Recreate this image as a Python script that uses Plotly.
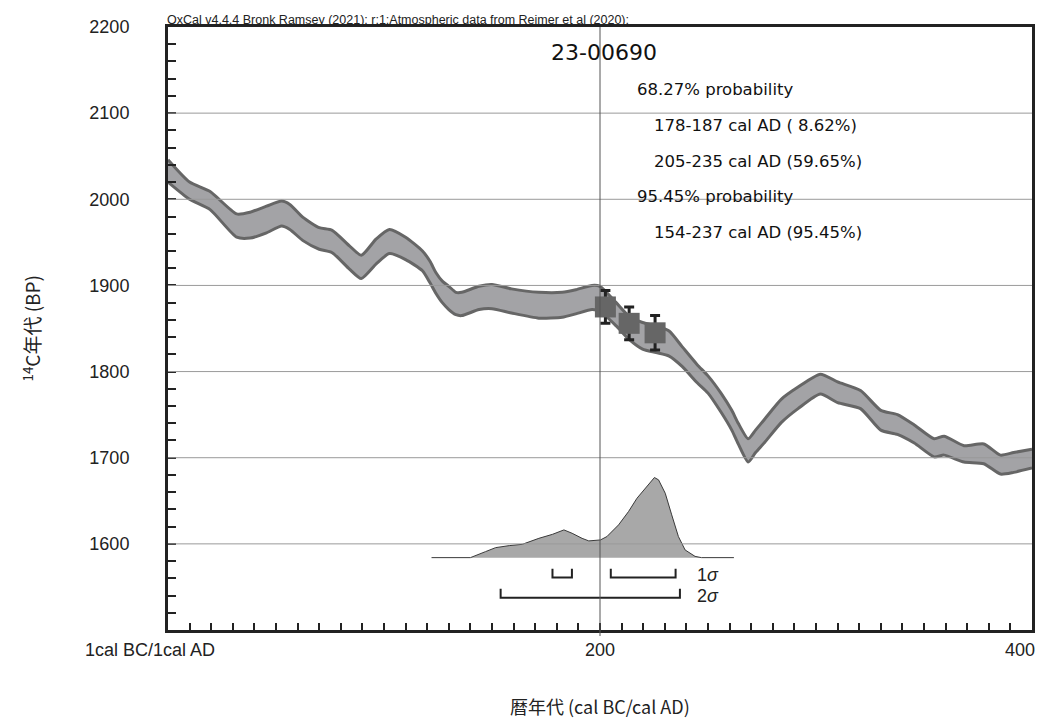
import plotly.graph_objects as go

# calibration curve band (upper / lower edge, BP)
CAL_YEARS = [0, 10, 19.5, 31.8, 38, 45.6, 52.6, 56.4, 62.5, 70, 76, 84, 89.5, 96.4,
             102.5, 110, 117.8, 121.3, 124, 127, 130, 133.3, 136, 144, 150, 159,
             171.7, 182.5, 188.8, 196.3, 200, 207.5, 213.6, 219.7, 226, 232, 238,
             245, 250, 256, 261, 264, 268.6, 272, 276.3, 284, 291.7, 302, 310,
             320.6, 330, 337.7, 345.5, 354.7, 359.3, 368.5, 377.7, 385.4, 391.5, 400]
CURVE_UPPER = [2046, 2020, 2009, 1983, 1985, 1992, 1998, 1994, 1979, 1967, 1964, 1946,
               1935, 1954, 1965, 1956, 1940, 1928, 1915, 1905, 1899, 1892, 1892, 1899,
               1901, 1896, 1892, 1892, 1895, 1900, 1899, 1880, 1864, 1857, 1853, 1847,
               1829, 1808, 1795, 1775, 1755, 1740, 1722, 1732, 1745, 1768, 1782, 1797,
               1788, 1778, 1755, 1750, 1738, 1722, 1725, 1714, 1716, 1703, 1706, 1710]
CURVE_LOWER = [2020, 2000, 1988, 1956, 1955, 1961, 1969, 1965, 1952, 1942, 1938, 1919,
               1908, 1925, 1937, 1930, 1917, 1903, 1891, 1880, 1872, 1866, 1865, 1872,
               1873, 1868, 1862, 1863, 1867, 1872, 1870, 1853, 1837, 1826, 1822, 1818,
               1806, 1787, 1775, 1753, 1732, 1716, 1695, 1706, 1718, 1741, 1757, 1774,
               1764, 1757, 1732, 1727, 1717, 1701, 1703, 1695, 1693, 1681, 1683, 1688]

# wiggle-match samples
SAMPLE_YEARS = [202.5, 213.5, 225.5]
SAMPLE_BP = [1875, 1856, 1845]
SAMPLE_ERR = [19, 19, 20]

# calibrated probability (relative to peak)
PROB_YEARS = [122, 140, 147, 151.7, 158, 164, 171.7, 178, 183.3, 187.1, 191.7, 194.8,
              200.2, 203.2, 208.6, 213.2, 217.1, 220.9, 225.2, 227.1, 230.2, 233.2,
              236.3, 239.4, 244, 247, 262]
PROB_DENSITY = [0, 0, 0.075, 0.125, 0.15, 0.166, 0.241, 0.291, 0.346, 0.304, 0.241,
                0.209, 0.221, 0.263, 0.409, 0.575, 0.741, 0.866, 1.0, 0.971, 0.804,
                0.534, 0.263, 0.096, 0.016, 0, 0]

ONE_SIGMA = [(178, 187), (205, 235)]
TWO_SIGMA = [(154, 237)]

HEADER = "OxCal v4.4.4 Bronk Ramsey (2021); r:1;Atmospheric data from Reimer et al (2020);"
LAB_CODE = "23-00690"
RESULT_LINES = ["68.27% probability", "178-187 cal AD ( 8.62%)", "205-235 cal AD (59.65%)",
                "95.45% probability", "154-237 cal AD (95.45%)"]
RESULT_INDENT = [0, 1, 1, 0, 1]

X_TICKS = [0, 200, 400]
X_TICK_TEXT = ["1cal BC/1cal AD", "200", "400"]
Y_TICKS = [1600, 1700, 1800, 1900, 2000, 2100, 2200]

# layout helpers (page body has an 8px margin, figure is sized to fit)
PROB_BASE = 1584
PROB_SCALE = 93
BAND_FILL = "#a3a3a6"
BAND_EDGE = "#666666"
SANS = "Liberation Sans, Arial, sans-serif"
WIDE = "DejaVu Sans, sans-serif"
JP = "Noto Sans CJK JP, sans-serif"

fig = go.Figure()

# calibration band
fig.add_trace(go.Scatter(x=CAL_YEARS, y=CURVE_LOWER, mode="lines",
                         line=dict(color=BAND_EDGE, width=3, shape="spline", smoothing=0.6),
                         hoverinfo="skip", showlegend=False))
fig.add_trace(go.Scatter(x=CAL_YEARS, y=CURVE_UPPER, mode="lines", fill="tonexty",
                         fillcolor=BAND_FILL,
                         line=dict(color=BAND_EDGE, width=3, shape="spline", smoothing=0.6),
                         hoverinfo="skip", showlegend=False))

# probability distribution
fig.add_trace(go.Scatter(x=PROB_YEARS, y=[PROB_BASE + d * PROB_SCALE for d in PROB_DENSITY],
                         mode="lines", fill="toself", fillcolor="#a8a8a8",
                         line=dict(color="#3a3a3a", width=1), hoverinfo="skip", showlegend=False))

# sigma brackets
for ranges, top, bottom in [(ONE_SIGMA, 1571, 1561), (TWO_SIGMA, 1548, 1537.5)]:
    for a, b in ranges:
        fig.add_trace(go.Scatter(x=[a, a, b, b], y=[top, bottom, bottom, top], mode="lines",
                                 line=dict(color="#222", width=2), hoverinfo="skip",
                                 showlegend=False))

# samples
fig.add_trace(go.Scatter(x=SAMPLE_YEARS, y=SAMPLE_BP, mode="markers",
                         marker=dict(symbol="square", size=21, color="#666666"),
                         error_y=dict(type="data", array=SAMPLE_ERR, color="#222",
                                      thickness=3, width=5),
                         showlegend=False))

# grid lines drawn over the curve
shapes = []
for v in Y_TICKS[:-1]:
    shapes.append(dict(type="line", xref="paper", x0=0, x1=1, yref="y", y0=v, y1=v,
                       line=dict(color="#9a9a9a", width=1), layer="above"))
shapes.append(dict(type="line", xref="x", x0=200, x1=200, yref="paper", y0=-0.01, y1=1,
                   line=dict(color="#555", width=1), layer="above"))

annotations = [
    dict(text=HEADER, xref="paper", yref="paper", x=0, y=1, xanchor="left", yanchor="bottom",
         showarrow=False, font=dict(family=SANS, size=12.5, color="#222"), xshift=-3, yshift=-2),
    dict(text=LAB_CODE, xref="x", yref="y", x=176.3, y=2170, xanchor="left",
         showarrow=False, font=dict(family=WIDE, size=22, color="#111")),
    dict(text="1<i>σ</i>", xref="x", yref="y", x=244, y=1564, xanchor="left",
         showarrow=False, font=dict(family=SANS, size=18, color="#222")),
    dict(text="2<i>σ</i>", xref="x", yref="y", x=244, y=1540, xanchor="left",
         showarrow=False, font=dict(family=SANS, size=18, color="#222")),
    dict(text="<sup>14</sup>C年代 (BP)", xref="paper", yref="paper", x=0, y=0.5,
         xanchor="center", yanchor="middle", xshift=-137, textangle=-90, showarrow=False,
         font=dict(family=JP, size=19, color="#222")),
    dict(text="暦年代 (cal BC/cal AD)", xref="paper", yref="paper", x=0.5, y=0,
         xanchor="center", yanchor="middle", yshift=-76, showarrow=False,
         font=dict(family=JP, size=18, color="#222")),
]
line_y = 2127
for txt, ind in zip(RESULT_LINES, RESULT_INDENT):
    annotations.append(dict(text=txt, xref="x", yref="y", x=216.3 + 8 * ind, y=line_y,
                            xanchor="left", showarrow=False,
                            font=dict(family=WIDE, size=16.5, color="#111")))
    line_y -= 41.4
tick_shift = {0: (-18, "center"), 200: (0, "center"), 400: (5, "right")}
for v, txt in zip(X_TICKS, X_TICK_TEXT):
    xs, anchor = tick_shift[v]
    annotations.append(dict(text=txt, xref="x", yref="paper", x=v, y=0, yshift=-32,
                            xshift=xs, xanchor=anchor, showarrow=False,
                            font=dict(family=SANS, size=18, color="#222")))

fig.update_layout(
    width=1035, height=714,
    margin=dict(l=160, r=8, t=19, b=92),
    paper_bgcolor="white", plot_bgcolor="white",
    shapes=shapes, annotations=annotations,
    xaxis=dict(range=[0, 400], showgrid=False, zeroline=False, showline=True, mirror=True,
               linecolor="#222", linewidth=3, ticks="inside", tick0=0, dtick=10,
               ticklen=7, tickwidth=1.5, tickcolor="#222", showticklabels=False),
    yaxis=dict(range=[1500, 2200], showgrid=False, zeroline=False, showline=True, mirror=True,
               linecolor="#222", linewidth=3, ticks="inside", tickvals=Y_TICKS,
               ticklen=8, tickwidth=1.5, tickcolor="#222", ticklabelstandoff=32,
               tickfont=dict(family=SANS, size=18, color="#222"),
               minor=dict(dtick=20, tick0=1500, ticks="inside", ticklen=8,
                          tickwidth=1.5, tickcolor="#222")),
)

fig.write_html("out.html")
